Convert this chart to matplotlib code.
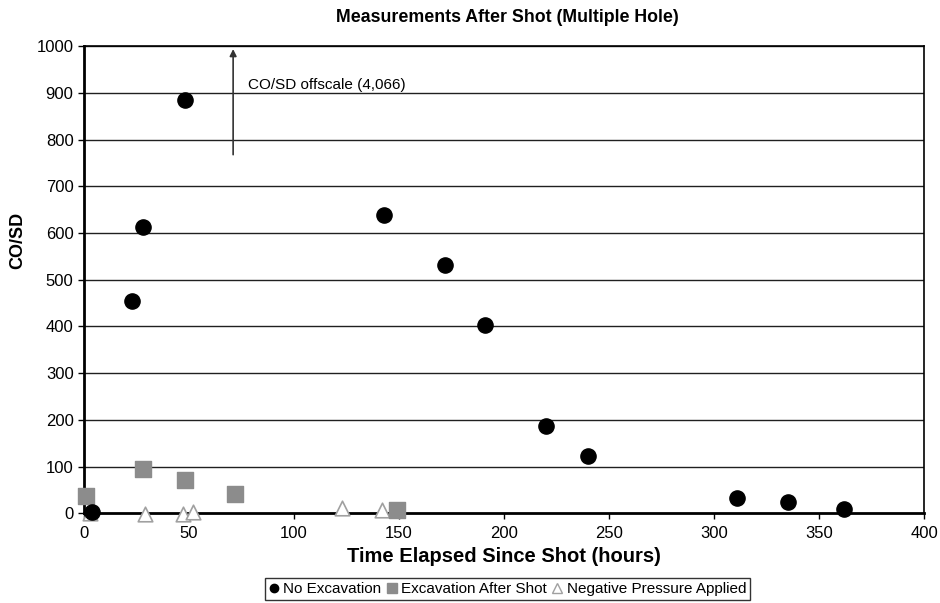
import matplotlib.pyplot as plt
from matplotlib.lines import Line2D

plt.rcParams['font.family'] = ['Liberation Sans', 'DejaVu Sans']

# Data: No Excavation
no_exc_jam = [4, 23, 28, 48, 143, 172, 191, 220, 240, 311, 335, 362]
no_exc_cosd = [3, 454, 612, 885, 638, 532, 404, 186, 123, 33, 25, 9]

# Data: Excavation After Shot
exc_jam = [1, 28, 48, 72, 149]
exc_cosd = [37, 94, 71, 41, 8]

# Data: Negative Pressure Applied
neg_jam = [3, 29, 47, 52, 123, 142]
neg_cosd = [1, -1, -1, 2, 12, 8]

# Nilai di luar skala
offscale_x = 71
offscale_label = 'CO/SD offscale (4,066)'

x_ticks = [0, 50, 100, 150, 200, 250, 300, 350, 400]
y_ticks = [0, 100, 200, 300, 400, 500, 600, 700, 800, 900, 1000]

fig = plt.figure(figsize=(9.4, 6.03), dpi=100)
ax = fig.add_axes([0.0894, 0.1488, 0.8936, 0.7744])

for y in y_ticks[1:]:
    ax.axhline(y, color='#202020', lw=1.0, zorder=1)

ax.scatter(neg_jam, neg_cosd, marker='^', s=110, facecolor='white', edgecolor='#a0a0a0', linewidth=1.2, zorder=3, clip_on=False)
ax.scatter(exc_jam, exc_cosd, marker='s', s=130, color='#8c8c8c', zorder=4, clip_on=False)
ax.scatter(no_exc_jam, no_exc_cosd, marker='o', s=120, color='black', zorder=5, clip_on=False)

# Panah offscale
ax.annotate('', xy=(offscale_x, 1000), xytext=(offscale_x, 762),
            arrowprops=dict(arrowstyle='-|>', color='#333333', lw=1.2, mutation_scale=10), zorder=6)
ax.text(offscale_x + 7, 918, offscale_label, fontsize=11, va='center', ha='left')

ax.set_xlim(0, 400)
ax.set_ylim(0, 1000)
ax.set_xticks(x_ticks)
ax.set_yticks(y_ticks)
ax.tick_params(labelsize=12, length=4, width=1, direction='out')
ax.tick_params(axis='x', pad=5)
for s in ['left', 'bottom']:
    ax.spines[s].set_linewidth(2)
for s in ['top', 'right']:
    ax.spines[s].set_linewidth(1.2)

fig.text(0.54, 0.971, 'Measurements After Shot (Multiple Hole)', fontsize=12.8,
         fontweight='bold', ha='center', va='center')
ax.set_xlabel('Time Elapsed Since Shot (hours)', fontsize=14.5, fontweight='bold')
ax.xaxis.label.set_va('center')
ax.xaxis.set_label_coords(0.5, -0.092)
ax.set_ylabel('CO/SD', fontsize=13, fontweight='bold')
ax.yaxis.label.set_va('center')
ax.yaxis.set_label_coords(-0.079, 0.585)

handles = [
    Line2D([], [], marker='o', color='black', ls='', markersize=6),
    Line2D([], [], marker='s', color='#8c8c8c', ls='', markersize=7),
    Line2D([], [], marker='^', markerfacecolor='white', markeredgecolor='#a0a0a0', ls='', markersize=7),
]
labels = ['No Excavation', 'Excavation After Shot', 'Negative Pressure Applied']
leg = fig.legend(handles, labels, loc='center', bbox_to_anchor=(0.540, 0.023), ncol=3,
                 fontsize=11, frameon=True, fancybox=False, edgecolor='black',
                 handlelength=0.6, handletextpad=0.3, columnspacing=0.4,
                 borderpad=0.25, borderaxespad=0)
leg.get_frame().set_linewidth(1.0)

plt.savefig('out.png', dpi=100)
